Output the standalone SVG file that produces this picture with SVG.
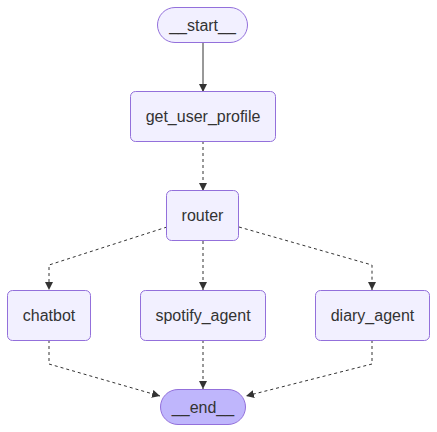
<svg xmlns="http://www.w3.org/2000/svg" width="437" height="432" viewBox="0 0 437 432">
<style>
.node rect{fill:#f2f0ff;stroke:#9370db;stroke-width:1}
.node text{font-family:"Liberation Sans",Arial,sans-serif;font-size:16px;fill:#333;text-anchor:middle;dominant-baseline:central}
#end rect{fill:#bfb6fc}
.edge{fill:none;stroke:#333;stroke-width:1}
.dot{stroke-dasharray:3 3}
</style>
<defs>
<marker id="arr" viewBox="0 0 10 10" refX="10" refY="5" markerWidth="8" markerHeight="8" markerUnits="userSpaceOnUse" orient="auto">
<path d="M0,0 L10,5 L0,10 z" fill="#333"/>
</marker>
</defs>
<rect width="437" height="432" fill="#fff"/>
<g id="edges">
<path class="edge" d="M203,42 L203,92" marker-end="url(#arr)"/>
<path class="edge dot" d="M203,141 L203,191" marker-end="url(#arr)"/>
<path class="edge dot" d="M167,227 L49,265 L49,290" marker-end="url(#arr)"/>
<path class="edge dot" d="M203,241 L203,290" marker-end="url(#arr)"/>
<path class="edge dot" d="M239,227 L372,265 L372,290" marker-end="url(#arr)"/>
<path class="edge dot" d="M49,340 L49,364 L160,396" marker-end="url(#arr)"/>
<path class="edge dot" d="M203,340 L203,389" marker-end="url(#arr)"/>
<path class="edge dot" d="M372,340 L372,364 L246,396" marker-end="url(#arr)"/>
</g>
<g id="start" class="node"><rect x="157.5" y="7.5" width="90" height="35" rx="17.5"/><text x="202.5" y="25">__start__</text></g>
<g id="get_user_profile" class="node"><rect x="130.5" y="91.5" width="145" height="50" rx="5"/><text x="203" y="116.5">get_user_profile</text></g>
<g id="router" class="node"><rect x="166.5" y="190.5" width="72" height="50" rx="5"/><text x="202.5" y="215.5">router</text></g>
<g id="chatbot" class="node"><rect x="7.5" y="290.5" width="83" height="50" rx="5"/><text x="49" y="315.5">chatbot</text></g>
<g id="spotify_agent" class="node"><rect x="140.5" y="290.5" width="125" height="50" rx="5"/><text x="203" y="315.5">spotify_agent</text></g>
<g id="diary_agent" class="node"><rect x="315.5" y="290.5" width="114" height="50" rx="5"/><text x="372.5" y="315.5">diary_agent</text></g>
<g id="end" class="node"><rect x="160.5" y="389.5" width="85" height="35" rx="17.5"/><text x="203" y="407">__end__</text></g>
</svg>
